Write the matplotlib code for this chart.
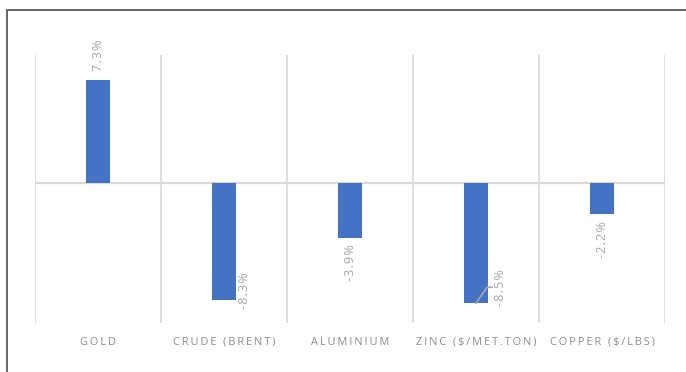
import matplotlib
matplotlib.use("Agg")
from matplotlib import pyplot as plt
from matplotlib.patches import Rectangle

categories = ["GOLD", "CRUDE (BRENT)", "ALUMINIUM", "ZINC ($/MET.TON)", "COPPER ($/LBS)"]
changes = [7.3, -8.3, -3.9, -8.5, -2.2]
labels = ["7.3%", "-8.3%", "-3.9%", "-8.5%", "-2.2%"]

bar_color = "#4472C4"
grid_color = "#d9d9d9"
label_color = "#a6a6a6"
cat_color = "#8c8c8c"

plt.rcParams['font.family'] = ['Open Sans', 'DejaVu Sans']

fig = plt.figure(figsize=(6.86, 3.72), dpi=100)
# chart border (only top and left visible in the crop)
fig.patches.append(Rectangle((7 / 686, -0.1), 1.1, 1.1 - 10 / 372,
                             transform=fig.transFigure, fill=False,
                             edgecolor="#595959", linewidth=1.3))

ax = fig.add_axes([35 / 686, 49 / 372, 630 / 686, 268 / 372])
x = list(range(len(categories)))
ax.bar(x, changes, width=0.19, color=bar_color, zorder=3)

ax.set_xlim(-0.5, len(categories) - 0.5)
ax.set_ylim(-9.9, 9.1)
for b in [i - 0.5 for i in range(len(categories) + 1)]:
    ax.axvline(b, color=grid_color, linewidth=1.2, zorder=1)
ax.axhline(0, color=grid_color, linewidth=1.6, zorder=2)

for s in ax.spines.values():
    s.set_visible(False)
ax.set_yticks([])
ax.set_xticks(x)
spaced = ["\u2009".join(c) for c in categories]
ax.set_xticklabels(spaced, fontsize=7.9, color=cat_color)
ax.tick_params(axis="x", length=0, pad=10)

# data labels
offsets = {
    0: ((0, 9), "center", "bottom"),
    1: ((21, -9), "center", "bottom"),
    2: ((0, -6), "center", "top"),
    3: ((25, -3), "center", "bottom"),
    4: ((0, -7), "center", "top"),
}
for i, (v, t) in enumerate(zip(changes, labels)):
    off, ha, va = offsets[i]
    ax.annotate("\u200a".join(t), (i, v), xytext=off, textcoords="offset pixels",
                rotation=90, ha=ha, va=va, fontsize=9, color=label_color)

# leader line for zinc label
zi = 3
p0 = ax.transData.transform((zi, changes[zi]))
trans = ax.transData.inverted()
pts = [trans.transform((p0[0], p0[1])),
       trans.transform((p0[0] + 11, p0[1] + 16)),
       trans.transform((p0[0] + 16, p0[1] + 16))]
ax.plot([p[0] for p in pts], [p[1] for p in pts], color="#a6a6a6",
        linewidth=1.2, zorder=4, clip_on=False)

fig.savefig("out.png", dpi=100)
